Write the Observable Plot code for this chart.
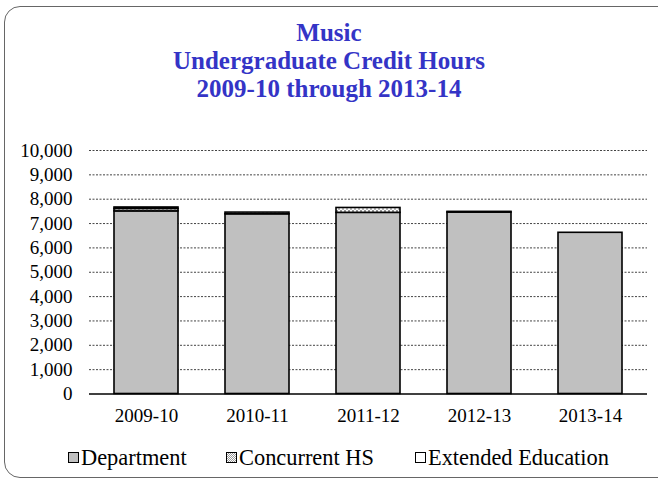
<!DOCTYPE html>
<html>
<head>
<meta charset="utf-8">
<script src="https://cdn.jsdelivr.net/npm/d3@7"></script>
<script src="https://cdn.jsdelivr.net/npm/@observablehq/plot@0.6"></script>
<style>
  body { margin: 0; background: #fff; width: 658px; height: 480px; overflow: hidden; position: relative; font-family: "Liberation Serif", "Times New Roman", serif; }
  #frame { position: absolute; left: 4px; top: 6px; width: 720px; height: 472px; border: 1px solid #666; border-radius: 16px; box-sizing: border-box; }
  #title { position: absolute; left: 0; top: 19px; width: 658px; text-align: center; color: #3434C6; font-weight: bold; font-size: 25px; line-height: 27.8px; }
  #chart { position: absolute; left: 0; top: 130px; }
  #legend { position: absolute; left: 0; top: 445px; width: 658px; font-size: 22.4px; line-height: 25px; color: #000; }
  .item { position: absolute; top: 0; white-space: nowrap; display: flex; align-items: center; }
  .sw { width: 11px; height: 11px; border: 1.3px solid #000; margin-right: 2px; box-sizing: border-box; }
</style>
</head>
<body>
<div id="frame"></div>
<div id="title">Music<br>Undergraduate Credit Hours<br>2009-10 through 2013-14</div>
<div id="chart"></div>
<div id="legend"></div>
<script>
const years = ["2009-10", "2010-11", "2011-12", "2012-13", "2013-14"];
const seriesNames = ["Department", "Concurrent HS", "Extended Education"];
const department = [7500, 7380, 7440, 7450, 6620];
const concurrentHS = [100, 70, 200, 30, 0];
const extendedEducation = [60, 0, 0, 0, 0];
const yTicks = [0, 1000, 2000, 3000, 4000, 5000, 6000, 7000, 8000, 9000, 10000];
const seriesFills = ["#c0c0c0", "url(#dotsPattern)", "#ffffff"];

const seriesValues = [department, concurrentHS, extendedEducation];
const data = [];
seriesNames.forEach((s, si) => {
  years.forEach((y, i) => {
    data.push({year: y, series: s, value: seriesValues[si][i]});
  });
});

const chart = Plot.plot({
  width: 658,
  height: 300,
  marginLeft: 89,
  marginRight: 11,
  marginTop: 20,
  marginBottom: 36.5,
  style: {fontFamily: "'Liberation Serif', 'Times New Roman', serif", fontSize: "19px", color: "#000", background: "transparent", overflow: "visible"},
  x: {domain: years, paddingInner: 0.42, paddingOuter: 0.21, label: null},
  y: {domain: [0, 10000], label: null},
  color: {domain: seriesNames, range: seriesFills},
  marks: [
    Plot.gridY(yTicks.filter(t => t > 0), {stroke: "#444", strokeOpacity: 1, strokeWidth: 1, strokeDasharray: "2,1.5"}),
    Plot.barY(data, Plot.stackY({x: "year", y: "value", fill: "series", order: seriesNames, stroke: "#000", strokeWidth: 1.6})),
    Plot.ruleY([0], {stroke: "#000", strokeWidth: 1.3}),
    Plot.axisX({tickSize: 0, tickPadding: 14, fontSize: 19}),
    Plot.axisY({ticks: yTicks, tickFormat: d3.format(","), tickSize: 0, tickPadding: 17, fontSize: 19})
  ]
});

// dot pattern for Concurrent HS
const ns = "http://www.w3.org/2000/svg";
const defs = document.createElementNS(ns, "defs");
const pat = document.createElementNS(ns, "pattern");
pat.setAttribute("id", "dotsPattern");
pat.setAttribute("patternUnits", "userSpaceOnUse");
pat.setAttribute("width", "4");
pat.setAttribute("height", "4");
const bg = document.createElementNS(ns, "rect");
bg.setAttribute("width", "4"); bg.setAttribute("height", "4"); bg.setAttribute("fill", "#ffffff");
const dot1 = document.createElementNS(ns, "rect");
dot1.setAttribute("x", "0"); dot1.setAttribute("y", "0"); dot1.setAttribute("width", "2"); dot1.setAttribute("height", "2"); dot1.setAttribute("fill", "#999");
const dot2 = document.createElementNS(ns, "rect");
dot2.setAttribute("x", "2"); dot2.setAttribute("y", "2"); dot2.setAttribute("width", "2"); dot2.setAttribute("height", "2"); dot2.setAttribute("fill", "#bbb");
pat.appendChild(bg); pat.appendChild(dot1); pat.appendChild(dot2);
defs.appendChild(pat);
chart.insertBefore(defs, chart.firstChild);
document.getElementById("chart").appendChild(chart);

// legend
const legend = document.getElementById("legend");
const legendX = [68, 226, 415];
seriesNames.forEach((s, i) => {
  const item = document.createElement("div");
  item.className = "item";
  item.style.left = legendX[i] + "px";
  const sw = document.createElement("div");
  sw.className = "sw";
  if (i === 1) {
    sw.style.background = "repeating-conic-gradient(#999 0% 25%, #fff 0% 50%) 0 0 / 2px 2px";
  } else {
    sw.style.background = seriesFills[i];
  }
  const t = document.createElement("span");
  t.textContent = s;
  item.appendChild(sw);
  item.appendChild(t);
  legend.appendChild(item);
});
</script>
</body>
</html>
